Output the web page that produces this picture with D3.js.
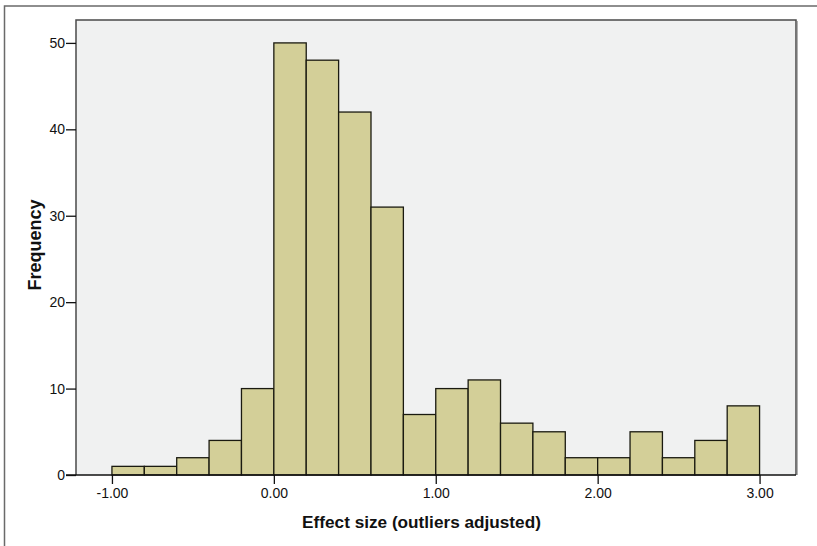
<!DOCTYPE html>
<html>
<head>
<meta charset="utf-8">
<script src="https://cdn.jsdelivr.net/npm/d3@7"></script>
<style>
  body { margin: 0; background: #fff; }
  svg { display: block; font-family: Arial, "Liberation Sans", sans-serif; }
</style>
</head>
<body>
<svg id="chart" width="817" height="546"></svg>
<script>
// bins of width 0.2 starting at -1.00
var binStarts = [-1.0, -0.8, -0.6, -0.4, -0.2, 0.0, 0.2, 0.4, 0.6, 0.8,
                 1.0, 1.2, 1.4, 1.6, 1.8, 2.0, 2.2, 2.4, 2.6, 2.8]
var counts = [1, 1, 2, 4, 10, 50, 48, 42, 31, 7,
              10, 11, 6, 5, 2, 2, 5, 2, 4, 8]
var binWidth = 0.2
var xTicks = [-1, 0, 1, 2, 3]
var yTicks = [0, 10, 20, 30, 40, 50]

var svg = d3.select('#chart')

// outer frame
svg.append('path')
  .attr('d', 'M4.5,546 L4.5,6 L817,6')
  .attr('fill', 'none')
  .attr('stroke', '#6a6a6a')
  .attr('stroke-width', 1.5)

var pLeft = 76, pRight = 796, pTop = 20, pBottom = 475

var x = d3.scaleLinear().domain([-1.222, 3.225]).range([pLeft, pRight])
var y = d3.scaleLinear().domain([0, 52.65]).range([pBottom, pTop])

// plot background
svg.append('rect')
  .attr('x', pLeft).attr('y', pTop)
  .attr('width', pRight - pLeft).attr('height', pBottom - pTop)
  .attr('fill', '#f0f1f1')

// shadow on right
svg.append('line')
  .attr('x1', pRight + 1.5).attr('x2', pRight + 1.5)
  .attr('y1', pTop + 1).attr('y2', pBottom)
  .attr('stroke', '#b0b0b0').attr('stroke-width', 1)

svg.append('path')
  .attr('d', 'M' + pLeft + ',' + pBottom + ' L' + pLeft + ',' + pTop + ' L' + pRight + ',' + pTop + ' L' + pRight + ',' + pBottom)
  .attr('fill', 'none')
  .attr('stroke', '#4a4a4a')
  .attr('stroke-width', 1.5)

// bars
svg.append('g').selectAll('rect')
  .data(counts)
  .enter().append('rect')
    .attr('x', function (d, i) { return x(binStarts[i]) })
    .attr('y', function (d) { return y(d) })
    .attr('width', function (d, i) { return x(binStarts[i] + binWidth) - x(binStarts[i]) })
    .attr('height', function (d) { return y(0) - y(d) })
    .attr('fill', '#d3cf98')
    .attr('stroke', '#1a1a10')
    .attr('stroke-width', 1.3)

// y axis
var yAxis = svg.append('g')
  .attr('transform', 'translate(' + pLeft + ',0)')
  .call(d3.axisLeft(y).tickValues(yTicks).tickSize(10).tickPadding(1).tickFormat(d3.format('d')))
yAxis.select('.domain').remove()
yAxis.selectAll('line').attr('stroke', '#111').attr('stroke-width', 1.3)
yAxis.selectAll('text').attr('font-size', 14).attr('fill', '#111')
  .attr('font-family', 'Arial, "Liberation Sans", sans-serif')

// x axis
var xAxis = svg.append('g')
  .attr('transform', 'translate(0,' + pBottom + ')')
  .call(d3.axisBottom(x).tickValues(xTicks).tickSize(9).tickPadding(4).tickFormat(d3.format('.2f')))
xAxis.select('.domain').remove()
xAxis.selectAll('line').attr('stroke', '#111').attr('stroke-width', 1.3)
xAxis.selectAll('text').attr('font-size', 14).attr('fill', '#111')
  .attr('font-family', 'Arial, "Liberation Sans", sans-serif')
  .text(function (d) { return d3.format('.2f')(d).replace('\u2212', '-') })

svg.append('line')
  .attr('x1', pLeft - 10).attr('x2', pRight)
  .attr('y1', pBottom).attr('y2', pBottom)
  .attr('stroke', '#111').attr('stroke-width', 1.5)

// titles
svg.append('text')
  .attr('transform', 'translate(41,245) rotate(-90)')
  .attr('text-anchor', 'middle')
  .attr('font-size', 18).attr('font-weight', 'bold').attr('fill', '#111')
  .text('Frequency')

svg.append('text')
  .attr('x', 421.5).attr('y', 528)
  .attr('text-anchor', 'middle')
  .attr('font-size', 17.2).attr('font-weight', 'bold').attr('fill', '#111')
  .text('Effect size (outliers adjusted)')
</script>
</body>
</html>
